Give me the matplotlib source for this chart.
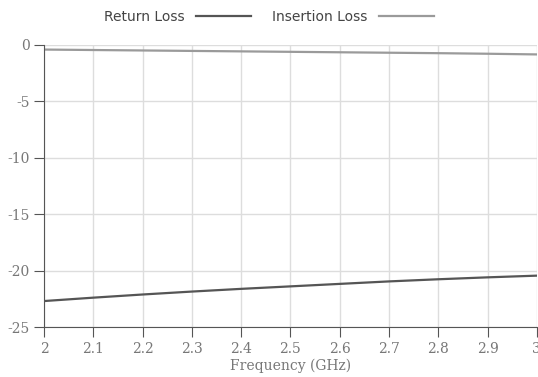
import numpy as np
import matplotlib.pyplot as plt

plt.rcParams['axes.unicode_minus'] = False

# 데이터
freq = [2.0, 2.1, 2.2, 2.3, 2.4, 2.5, 2.6, 2.7, 2.8, 2.9, 3.0]
return_loss = [-22.7, -22.4, -22.12, -21.86, -21.62, -21.4, -21.18, -20.96, -20.77, -20.6, -20.45]
insertion_loss = [-0.42, -0.46, -0.5, -0.54, -0.58, -0.62, -0.66, -0.7, -0.74, -0.79, -0.85]
x_ticks = [2, 2.1, 2.2, 2.3, 2.4, 2.5, 2.6, 2.7, 2.8, 2.9, 3]
x_labels = ['2', '2.1', '2.2', '2.3', '2.4', '2.5', '2.6', '2.7', '2.8', '2.9', '3']
y_ticks = [0, -5, -10, -15, -20, -25]

fig = plt.figure(figsize=(5.38, 3.77), dpi=100)
ax = fig.add_axes([0.0818, 0.1326, 0.916, 0.7485])

ax.plot(freq, return_loss, color='#555555', lw=1.6, label='Return Loss')
ax.plot(freq, insertion_loss, color='#9a9a9a', lw=1.6, label='Insertion Loss')

ax.set_xlim(2, 3)
ax.set_ylim(-25, 0)
ax.set_xticks(x_ticks)
ax.set_xticklabels(x_labels)
ax.set_yticks(y_ticks)

ax.grid(True, color='#dddddd', lw=1)
ax.set_axisbelow(True)
for s in ['top', 'right']:
    ax.spines[s].set_visible(False)
for s in ['left', 'bottom']:
    ax.spines[s].set_color('#555555')

ax.tick_params(direction='out', length=7, color='#555555', labelcolor='#777777', labelsize=10)
for lab in ax.get_xticklabels() + ax.get_yticklabels():
    lab.set_family('DejaVu Serif')

ax.set_xlabel('Frequency (GHz)', family='DejaVu Serif', color='#777777', fontsize=10, labelpad=2)

leg = fig.legend(loc='center', bbox_to_anchor=(0.5, 0.955), ncol=2, frameon=False,
                 markerfirst=False, handlelength=4, columnspacing=1.5, fontsize=10)
for t in leg.get_texts():
    t.set_color('#444444')

fig.savefig('out.png', dpi=100)
